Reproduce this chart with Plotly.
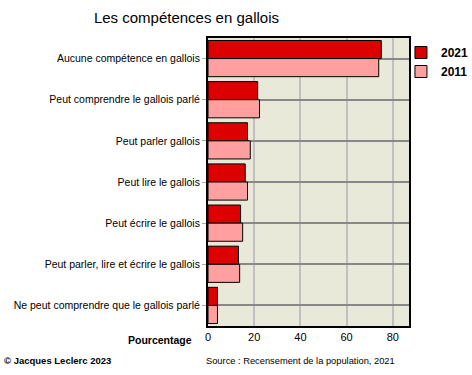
import plotly.graph_objects as go

categories = [
    "Aucune compétence en gallois",
    "Peut comprendre le gallois parlé",
    "Peut parler gallois",
    "Peut lire le gallois",
    "Peut écrire le gallois",
    "Peut parler, lire et écrire le gallois",
    "Ne peut comprendre que le gallois parlé",
]
values_2021 = [75.0, 21.5, 17.1, 16.1, 14.1, 13.2, 4.1]
values_2011 = [73.9, 22.3, 18.3, 17.1, 15.0, 13.7, 4.1]
tick_vals = [0, 20, 40, 60, 80]

fig = go.Figure()
fig.add_trace(go.Bar(y=categories, x=values_2021, name="<b>2021</b>", orientation="h",
                     marker=dict(color="#dd0000", line=dict(color="black", width=1))))
fig.add_trace(go.Bar(y=categories, x=values_2011, name="<b>2011</b>", orientation="h",
                     marker=dict(color="#ff9f9f", line=dict(color="black", width=1))))

fig.update_layout(
    width=472, height=375,
    margin=dict(l=208, r=63, t=38, b=49, autoexpand=False),
    paper_bgcolor="white", plot_bgcolor="#e9e9d9",
    barmode="group", bargap=0.12, bargroupgap=0,
    font=dict(family="Arial, Liberation Sans, sans-serif", size=11, color="black"),
    title=dict(text="Les compétences en gallois", x=0.395, xanchor="center", y=0.953, yanchor="middle",
               font=dict(size=15, color="black")),
    legend=dict(x=0.96, y=1.0, xanchor="left", yanchor="top",
                font=dict(size=12),
                tracegroupgap=0, itemwidth=30, bgcolor="rgba(0,0,0,0)"),
    showlegend=True,
)
fig.update_xaxes(range=[0, 87], tickvals=tick_vals, showgrid=True, gridcolor="#c0c0c0", gridwidth=1.5,
                 zeroline=False, showline=True, linecolor="black", linewidth=2, mirror=True,
                 tickfont=dict(size=11), tickprefix="<b>", ticksuffix="</b>", ticks="")
fig.update_yaxes(autorange="reversed", showgrid=True, gridcolor="#888888", gridwidth=1.5,
                 showline=True, linecolor="black", linewidth=2, mirror=True,
                 ticks="outside", ticklen=4, tickcolor="#aaaaaa",
                 tickfont=dict(size=10.5))

fig.add_annotation(text="<b>Pourcentage</b>", xref="paper", yref="paper", x=-0.07, y=-0.02,
                   xanchor="right", yanchor="top", showarrow=False, font=dict(size=10.5))
fig.add_annotation(text="<b>© Jacques Leclerc 2023</b>", xref="paper", yref="paper", x=-1.025, y=-0.12,
                   xanchor="left", yanchor="middle", showarrow=False, font=dict(size=9.5))
fig.add_annotation(text="Source : Recensement de la population, 2021", xref="paper", yref="paper",
                   x=-0.02, y=-0.12, xanchor="left", yanchor="middle", showarrow=False,
                   font=dict(size=9.3))

fig.write_html("out.html", config={"displayModeBar": False},
               post_script="document.body.style.margin='0';")
